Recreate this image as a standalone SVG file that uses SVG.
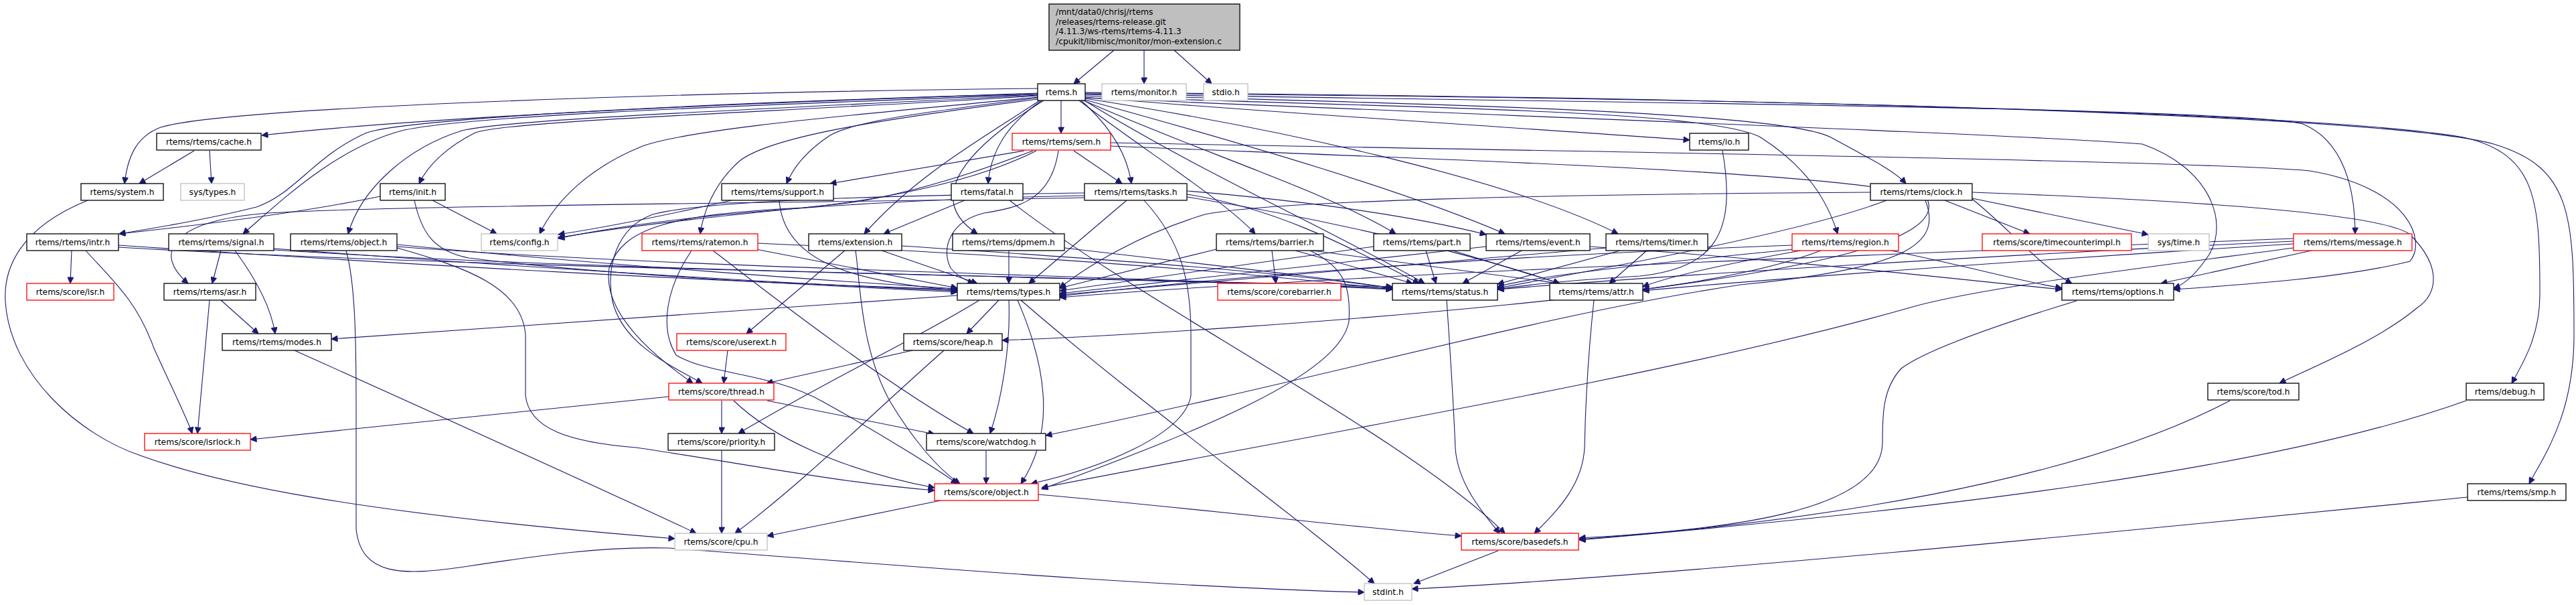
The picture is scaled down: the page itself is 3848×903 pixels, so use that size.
<svg xmlns="http://www.w3.org/2000/svg" width="3848" height="903" viewBox="0 0 3848 903">
<style>
rect{fill:#fff;stroke:#000;stroke-width:1.3}
.r rect{stroke:#ff0000}
.g rect{stroke:#bfbfbf}
.root rect{fill:#bfbfbf}
text{font-family:"DejaVu Sans","Liberation Sans",sans-serif;font-size:12.3px;fill:#000;text-anchor:middle}
.root text{text-anchor:start}
#edges path{fill:none;stroke:#191970;stroke-width:1.1;marker-end:url(#a)}
</style>
<defs>
<marker id="a" viewBox="0 0 10 10" refX="10" refY="5" markerWidth="11" markerHeight="9" markerUnits="userSpaceOnUse" orient="auto"><path d="M0,0 L10,5 L0,10 z" fill="#191970" stroke="#191970"/></marker>
</defs>
<rect x="0" y="0" width="3848" height="903" style="fill:#fff;stroke:none"/>
<g id="edges">
<path d="M1664,75 L1604,125"/>
<path d="M1709,75 L1709,125"/>
<path d="M1754,75 L1810,125"/>
<path d="M1550,139 C1250,150 700,168 391,202"/>
<path d="M1550,132 C1000,138 340,160 240,190 C200,205 190,240 186,274"/>
<path d="M1550,140 C1100,152 620,175 548,198 C470,232 440,290 383,309 C300,330 220,342 178,349"/>
<path d="M1550,141 C1100,158 700,172 600,195 C500,222 420,300 363,349"/>
<path d="M1550,142 C1100,165 760,178 690,195 C610,220 540,280 520,349"/>
<path d="M1550,143 C1150,168 760,180 710,198 C670,218 640,245 626,274"/>
<path d="M1550,145 C1300,170 1040,190 960,218 C880,250 830,300 806,349"/>
<path d="M1550,146 C1360,170 1275,182 1240,202 C1205,225 1185,250 1175,274"/>
<path d="M1550,148 C1300,180 1150,205 1105,240 C1065,275 1050,320 1046,349"/>
<path d="M1585,150 L1585,199"/>
<path d="M1556,150 C1505,185 1480,225 1476,274"/>
<path d="M1553,150 C1470,205 1370,260 1291,349"/>
<path d="M1559,150 C1430,230 1385,300 1460,349"/>
<path d="M1615,150 C1660,190 1684,230 1690,274"/>
<path d="M1612,150 C1710,225 1830,300 1875,349"/>
<path d="M1619,150 C1800,230 1980,285 2085,349"/>
<path d="M1621,149 C1860,215 2100,285 2248,349"/>
<path d="M1621,147 C1900,190 2250,265 2417,349"/>
<path d="M1621,145 C1900,168 2200,186 2524,209"/>
<path d="M1621,143 C2000,160 2550,160 2630,205 C2700,250 2730,300 2745,349"/>
<path d="M1621,141 C2100,155 2660,165 2735,205 C2790,235 2830,255 2847,274"/>
<path d="M1621,140 C2300,152 3340,160 3440,185 C3500,210 3518,280 3518,349"/>
<path d="M1621,139 C2500,145 3450,165 3680,205 C3790,230 3794,300 3794,440 C3794,500 3770,540 3752,572"/>
<path d="M1621,138 C2600,145 3560,170 3725,215 C3842,250 3845,320 3845,500 C3845,620 3800,680 3778,722"/>
<path d="M1621,146 C2300,175 3000,200 3200,215 C3300,250 3330,330 3300,380 C3280,410 3262,425 3247,430"/>
<path d="M1620,150 C1780,250 2000,350 2128,423"/>
<path d="M290,225 L208,274"/>
<path d="M313,225 L316,274"/>
<path d="M131,299 C30,340 5,400 8,450 C15,560 120,650 210,680 C320,720 520,765 1008,804"/>
<path d="M568,293 C450,318 280,338 178,349"/>
<path d="M646,299 L742,349"/>
<path d="M619,299 C630,350 650,375 700,385 C900,410 1200,425 1430,436"/>
<path d="M1530,225 L1240,274"/>
<path d="M1604,225 L1676,274"/>
<path d="M1543,225 C1400,280 1300,300 1250,305 C1100,320 950,335 833,355"/>
<path d="M1548,225 C1450,275 1300,300 1200,310 C1000,320 930,340 910,400 C900,460 960,520 1035,572"/>
<path d="M1581,225 C1570,300 1520,310 1470,318 C1420,330 1405,370 1420,400 C1430,412 1445,420 1455,423"/>
<path d="M1659,213 C2300,225 3300,240 3450,255 C3600,280 3625,360 3600,390 C3500,415 3350,425 3247,432"/>
<path d="M1659,218 C2200,240 2850,260 2880,300 C2900,360 2700,400 2454,432"/>
<path d="M1093,299 C1000,320 900,340 834,350"/>
<path d="M1164,299 C1170,380 1250,420 1430,433"/>
<path d="M1441,299 L1320,349"/>
<path d="M1508,299 C1700,450 2100,650 2248,796"/>
<path d="M1620,292 C1300,298 1000,320 834,356"/>
<path d="M1620,295 C1300,302 600,306 400,318 C250,330 230,380 281,423"/>
<path d="M1683,299 L1537,423"/>
<path d="M1709,299 C1765,360 1779,420 1779,500 L1779,590 C1770,650 1640,700 1540,722"/>
<path d="M1773,290 C1900,310 2000,360 2120,423"/>
<path d="M1773,294 C2000,330 2200,380 2330,423"/>
<path d="M1773,285 C1950,300 2100,320 2220,350"/>
<path d="M1620,288 C1300,292 1050,300 975,320 C920,340 905,400 915,450 C930,510 990,540 1049,572"/>
<path d="M2794,287 C2300,290 1900,300 1800,320 C1700,350 1620,400 1583,430"/>
<path d="M2818,299 C2700,345 2400,400 2237,430"/>
<path d="M2905,299 L3032,349"/>
<path d="M2946,296 L3209,350"/>
<path d="M2946,287 C3300,300 3560,320 3600,350 C3650,400 3640,440 3610,460 C3550,510 3450,550 3405,572"/>
<path d="M2876,299 C2900,360 2860,400 2600,425 C2300,470 2000,560 1562,650"/>
<path d="M2946,297 C3000,340 3050,400 3095,423"/>
<path d="M107,374 L105,423"/>
<path d="M128,374 C170,420 205,450 230,520 C262,590 282,630 287,647"/>
<path d="M177,366 C600,395 1100,422 1430,432"/>
<path d="M177,369 C700,400 1500,410 2080,428"/>
<path d="M330,374 L317,423"/>
<path d="M351,374 C385,420 405,460 411,498"/>
<path d="M409,371 C800,400 1200,425 1430,434"/>
<path d="M409,373 C900,405 1600,412 2080,430"/>
<path d="M593,365 C900,395 1250,420 1430,431"/>
<path d="M593,368 C1000,400 1700,412 2080,432"/>
<path d="M593,370 C700,400 780,430 785,500 L785,590 C790,640 850,660 950,668 C1100,690 1250,720 1396,732"/>
<path d="M517,374 C530,420 532,500 532,600 L532,790 C540,860 600,860 700,845 C800,830 900,815 1000,818 C1300,840 1700,875 2038,884"/>
<path d="M1129,372 L1430,430"/>
<path d="M1033,374 C995,430 985,490 1010,530 C1060,560 1150,555 1230,600 C1320,650 1400,700 1430,722"/>
<path d="M1065,374 C1100,400 1300,560 1454,647"/>
<path d="M1132,363 C1500,380 1800,400 2080,432"/>
<path d="M1317,374 L1460,423"/>
<path d="M1262,374 L1115,498"/>
<path d="M1278,374 C1285,420 1285,520 1330,600 C1360,650 1400,700 1434,722"/>
<path d="M1347,367 C1700,390 1900,405 2080,430"/>
<path d="M1507,374 L1507,423"/>
<path d="M1590,370 C1800,395 1950,410 2080,430"/>
<path d="M1817,372 L1583,430"/>
<path d="M1900,374 L1906,423"/>
<path d="M1935,374 L2110,423"/>
<path d="M1960,374 L2330,423"/>
<path d="M1957,374 C2010,400 2018,430 2015,480 C2000,560 1800,640 1556,730"/>
<path d="M2052,368 L1583,434"/>
<path d="M2130,374 L2145,423"/>
<path d="M2170,374 L2330,423"/>
<path d="M2220,368 L1583,438"/>
<path d="M2273,374 L2185,423"/>
<path d="M2375,368 C2700,390 2950,420 3080,432"/>
<path d="M2399,370 L1583,440"/>
<path d="M2420,374 L2237,424"/>
<path d="M2460,374 L2404,423"/>
<path d="M2677,366 C2300,380 1900,405 1583,442"/>
<path d="M2680,372 C2500,390 2300,410 2237,428"/>
<path d="M2690,374 C2600,390 2500,410 2454,428"/>
<path d="M2825,374 C2950,400 3020,420 3080,430"/>
<path d="M2720,374 C2600,420 2400,440 2250,455 C2000,480 1700,500 1497,508"/>
<path d="M3426,370 C3200,400 2950,430 2850,460 C2500,560 1900,660 1556,728"/>
<path d="M3426,356 C2800,380 2000,410 1583,444"/>
<path d="M3426,360 C3000,380 2500,410 2237,432"/>
<path d="M3426,364 C3000,390 2600,420 2454,434"/>
<path d="M3453,374 L3228,423"/>
<path d="M2573,225 C2595,350 2560,400 2450,412 C2350,418 2280,425 2237,432"/>
<path d="M2161,448 C2168,550 2172,620 2174,670 C2178,720 2210,760 2240,796"/>
<path d="M2381,448 C2370,550 2368,620 2367,667 C2365,720 2330,760 2292,796"/>
<path d="M3102,449 C3000,480 2880,520 2840,550 C2812,580 2812,620 2812,660 C2812,760 2600,790 2359,803"/>
<path d="M3331,598 C3100,720 2700,780 2359,805"/>
<path d="M3684,598 C3400,700 2900,760 2359,806"/>
<path d="M3686,742 C3200,790 2500,860 2109,879"/>
<path d="M1430,441 L495,506"/>
<path d="M1492,448 L1444,498"/>
<path d="M1463,448 C1380,500 1250,560 1103,647"/>
<path d="M1507,448 C1510,520 1495,600 1479,647"/>
<path d="M1520,448 C1560,540 1580,640 1525,722"/>
<path d="M1525,448 C1700,600 1950,780 2053,871"/>
<path d="M1363,523 L1145,572"/>
<path d="M1410,523 C1300,620 1200,720 1098,796"/>
<path d="M1087,523 L1081,572"/>
<path d="M1078,598 L1078,647"/>
<path d="M1146,598 L1396,648"/>
<path d="M1096,598 C1150,650 1250,700 1396,728"/>
<path d="M999,592 L374,656"/>
<path d="M1078,673 L1078,796"/>
<path d="M1473,673 L1473,722"/>
<path d="M440,523 C700,640 900,730 1040,796"/>
<path d="M1405,747 L1146,800"/>
<path d="M1551,738 C1800,760 2000,785 2183,800"/>
<path d="M2238,822 L2112,871"/>
<path d="M330,448 L386,498"/>
<path d="M313,448 L295,647"/>
</g>
<g id="n_root" class="root"><rect x="1567" y="6" width="285" height="69"/>
<text x="1577" y="22">/mnt/data0/chrisj/rtems</text>
<text x="1577" y="37">/releases/rtems-release.git</text>
<text x="1577" y="51">/4.11.3/ws-rtems/rtems-4.11.3</text>
<text x="1577" y="66">/cpukit/libmisc/monitor/mon-extension.c</text></g>
<g id="n_rtems"><rect x="1550" y="125" width="71" height="25"/><text x="1585.5" y="142">rtems.h</text></g>
<g id="n_monitor" class="g"><rect x="1646" y="125" width="126" height="25"/><text x="1709" y="142">rtems/monitor.h</text></g>
<g id="n_stdio" class="g"><rect x="1798" y="125" width="66" height="25"/><text x="1831" y="142">stdio.h</text></g>
<g id="n_cache"><rect x="234" y="199" width="156" height="25"/><text x="312" y="216">rtems/rtems/cache.h</text></g>
<g id="n_sem" class="r"><rect x="1512" y="199" width="147" height="25"/><text x="1585.5" y="216">rtems/rtems/sem.h</text></g>
<g id="n_io"><rect x="2524" y="199" width="88" height="25"/><text x="2568" y="216">rtems/io.h</text></g>
<g id="n_system"><rect x="121" y="274" width="123" height="25"/><text x="182.5" y="291">rtems/system.h</text></g>
<g id="n_systypes" class="g"><rect x="270" y="274" width="95" height="25"/><text x="317.5" y="291">sys/types.h</text></g>
<g id="n_init"><rect x="568" y="274" width="97" height="25"/><text x="616.5" y="291">rtems/init.h</text></g>
<g id="n_support"><rect x="1078" y="274" width="167" height="25"/><text x="1161.5" y="291">rtems/rtems/support.h</text></g>
<g id="n_fatal"><rect x="1421" y="274" width="107" height="25"/><text x="1474.5" y="291">rtems/fatal.h</text></g>
<g id="n_tasks"><rect x="1620" y="274" width="153" height="25"/><text x="1696.5" y="291">rtems/rtems/tasks.h</text></g>
<g id="n_clock"><rect x="2794" y="274" width="152" height="25"/><text x="2870" y="291">rtems/rtems/clock.h</text></g>
<g id="n_intr"><rect x="40" y="349" width="137" height="25"/><text x="108.5" y="366">rtems/rtems/intr.h</text></g>
<g id="n_signal"><rect x="252" y="349" width="157" height="25"/><text x="330.5" y="366">rtems/rtems/signal.h</text></g>
<g id="n_robject"><rect x="434" y="349" width="159" height="25"/><text x="513.5" y="366">rtems/rtems/object.h</text></g>
<g id="n_config" class="g"><rect x="719" y="349" width="114" height="25"/><text x="776" y="366">rtems/config.h</text></g>
<g id="n_ratemon" class="r"><rect x="959" y="349" width="173" height="25"/><text x="1045.5" y="366">rtems/rtems/ratemon.h</text></g>
<g id="n_extension"><rect x="1208" y="349" width="139" height="25"/><text x="1277.5" y="366">rtems/extension.h</text></g>
<g id="n_dpmem"><rect x="1423" y="349" width="167" height="25"/><text x="1506.5" y="366">rtems/rtems/dpmem.h</text></g>
<g id="n_barrier"><rect x="1817" y="349" width="160" height="25"/><text x="1897" y="366">rtems/rtems/barrier.h</text></g>
<g id="n_part"><rect x="2052" y="349" width="144" height="25"/><text x="2124" y="366">rtems/rtems/part.h</text></g>
<g id="n_event"><rect x="2220" y="349" width="155" height="25"/><text x="2297.5" y="366">rtems/rtems/event.h</text></g>
<g id="n_timer"><rect x="2399" y="349" width="152" height="25"/><text x="2475" y="366">rtems/rtems/timer.h</text></g>
<g id="n_region" class="r"><rect x="2677" y="349" width="159" height="25"/><text x="2756.5" y="366">rtems/rtems/region.h</text></g>
<g id="n_timecounter" class="r"><rect x="2961" y="349" width="223" height="25"/><text x="3072.5" y="366">rtems/score/timecounterimpl.h</text></g>
<g id="n_systime" class="g"><rect x="3209" y="349" width="91" height="25"/><text x="3254.5" y="366">sys/time.h</text></g>
<g id="n_message" class="r"><rect x="3426" y="349" width="177" height="25"/><text x="3514.5" y="366">rtems/rtems/message.h</text></g>
<g id="n_isr" class="r"><rect x="40" y="423" width="130" height="25"/><text x="105" y="440">rtems/score/isr.h</text></g>
<g id="n_asr"><rect x="245" y="423" width="137" height="25"/><text x="313.5" y="440">rtems/rtems/asr.h</text></g>
<g id="n_types"><rect x="1430" y="423" width="153" height="25"/><text x="1506.5" y="440">rtems/rtems/types.h</text></g>
<g id="n_corebarrier" class="r"><rect x="1819" y="423" width="184" height="25"/><text x="1911" y="440">rtems/score/corebarrier.h</text></g>
<g id="n_status"><rect x="2080" y="423" width="157" height="25"/><text x="2158.5" y="440">rtems/rtems/status.h</text></g>
<g id="n_attr"><rect x="2315" y="423" width="139" height="25"/><text x="2384.5" y="440">rtems/rtems/attr.h</text></g>
<g id="n_options"><rect x="3080" y="423" width="167" height="25"/><text x="3163.5" y="440">rtems/rtems/options.h</text></g>
<g id="n_modes"><rect x="332" y="498" width="163" height="25"/><text x="413.5" y="515">rtems/rtems/modes.h</text></g>
<g id="n_userext" class="r"><rect x="1011" y="498" width="163" height="25"/><text x="1092.5" y="515">rtems/score/userext.h</text></g>
<g id="n_heap"><rect x="1350" y="498" width="147" height="25"/><text x="1423.5" y="515">rtems/score/heap.h</text></g>
<g id="n_thread" class="r"><rect x="999" y="572" width="157" height="25"/><text x="1077.5" y="589">rtems/score/thread.h</text></g>
<g id="n_tod"><rect x="3298" y="572" width="136" height="25"/><text x="3366" y="589">rtems/score/tod.h</text></g>
<g id="n_debug"><rect x="3684" y="572" width="116" height="25"/><text x="3742" y="589">rtems/debug.h</text></g>
<g id="n_isrlock" class="r"><rect x="216" y="647" width="158" height="25"/><text x="295" y="664">rtems/score/isrlock.h</text></g>
<g id="n_priority"><rect x="998" y="647" width="159" height="25"/><text x="1077.5" y="664">rtems/score/priority.h</text></g>
<g id="n_watchdog"><rect x="1384" y="647" width="178" height="25"/><text x="1473" y="664">rtems/score/watchdog.h</text></g>
<g id="n_sobject" class="r"><rect x="1396" y="722" width="155" height="25"/><text x="1473.5" y="739">rtems/score/object.h</text></g>
<g id="n_smp"><rect x="3686" y="722" width="147" height="25"/><text x="3759.5" y="739">rtems/rtems/smp.h</text></g>
<g id="n_cpu" class="g"><rect x="1008" y="796" width="138" height="25"/><text x="1077" y="813">rtems/score/cpu.h</text></g>
<g id="n_basedefs" class="r"><rect x="2183" y="796" width="175" height="25"/><text x="2270.5" y="813">rtems/score/basedefs.h</text></g>
<g id="n_stdint" class="g"><rect x="2038" y="871" width="71" height="25"/><text x="2073.5" y="888">stdint.h</text></g>
</svg>
